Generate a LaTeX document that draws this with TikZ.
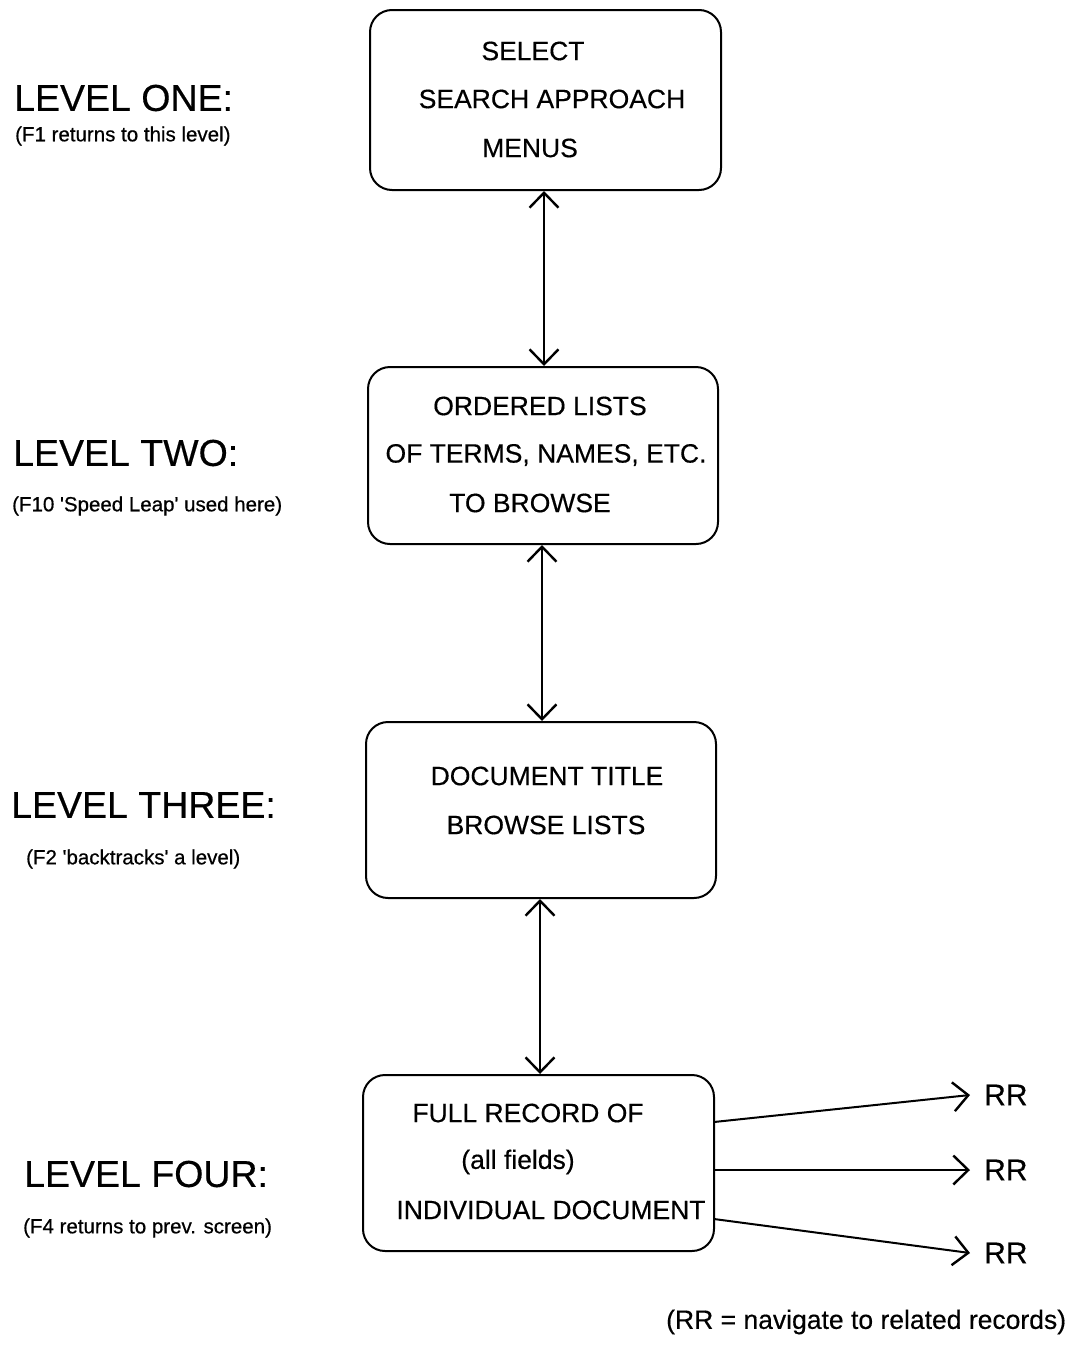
\documentclass[tikz,border=0pt]{standalone}
\usepackage{fontspec}
\setmainfont[FakeBold=0.4]{Liberation Sans}
\newfontfamily\notefont[FakeBold=0.6]{Liberation Sans}
\usetikzlibrary{arrows.meta}
\tikzset{
  box/.style={draw, line width=2pt, rounded corners=22pt, inner sep=0pt},
  boxtxt/.style={inner sep=0pt, font=\fontsize{26.5}{30}\selectfont},
  lvl/.style={anchor=west, inner sep=0pt, font=\fontsize{37.5}{40}\selectfont},
  lvlnote/.style={anchor=west, inner sep=0pt, font=\notefont\fontsize{20.5}{22}\selectfont},
  link/.style={line width=2pt, {Straight Barb[length=15pt,width=29pt,line width=2.4pt]}-{Straight Barb[length=15pt,width=29pt,line width=2.4pt]}},
  rrlink/.style={line width=2pt, -{Straight Barb[length=15pt,width=29pt,line width=2.4pt]}},
  rr/.style={anchor=west, inner sep=0pt, inner xsep=14pt, font=\fontsize{30}{32}\selectfont}
}
\begin{document}
\begin{tikzpicture}[x=1pt,y=-1pt]
\useasboundingbox (0,0) rectangle (1072,1347);
% boxes
\node[box, minimum width=351pt, minimum height=180pt] (b1) at (545.5,100) {};
\node[box, minimum width=350pt, minimum height=177pt] (b2) at (543,455.5) {};
\node[box, minimum width=350pt, minimum height=176pt] (b3) at (541,810) {};
\node[box, minimum width=351pt, minimum height=176pt] (b4) at (538.5,1163) {};
% box texts
\node[boxtxt] (t11) at (533,51) {SELECT};
\node[boxtxt] (t12) at (552,99) {SEARCH APPROACH};
\node[boxtxt] (t13) at (530,148) {MENUS};
\node[boxtxt] (t21) at (540,406) {ORDERED LISTS};
\node[boxtxt] (t22) at (546,455) {OF TERMS, NAMES, ETC.};
\node[boxtxt] (t23) at (530,503) {TO BROWSE};
\node[boxtxt] (t31) at (547,776) {DOCUMENT TITLE};
\node[boxtxt] (t32) at (546,825) {BROWSE LISTS};
\node[boxtxt] (t41) at (528,1113) {FULL RECORD OF};
\node[boxtxt] (t42) at (518,1162) {(all fields)};
\node[boxtxt] (t43) at (551,1210) {INDIVIDUAL DOCUMENT};
% level labels
\node[lvl] (l1) at (14,98) {LEVEL ONE:};
\node[lvlnote] (n1) at (15,136) {(F1 returns to this level)};
\node[lvl] (l2) at (13,453) {LEVEL TWO:};
\node[lvlnote] (n2) at (12,506) {(F10 \textquotesingle Speed Leap\textquotesingle\ used here)};
\node[lvl] (l3) at (11,805) {LEVEL THREE:};
\node[lvlnote] (n3) at (26,859) {(F2 \textquotesingle backtracks\textquotesingle\ a level)};
\node[lvl] (l4) at (24,1174) {LEVEL FOUR:};
\node[lvlnote] (n4) at (23,1228) {(F4 returns to prev. screen)};
% vertical links
\draw[link] (b1.south) ++(-1.5,0) coordinate (a1) -- (a1 |- b2.north);
\draw[link] (b2.south) ++(-1,0) coordinate (a2) -- (a2 |- b3.north);
\draw[link] (b3.south) ++(-1,0) coordinate (a3) -- (a3 |- b4.north);
% RR links
\node[rr] (rr1) at (970,1095) {RR};
\node[rr] (rr2) at (970,1170) {RR};
\node[rr] (rr3) at (970,1253) {RR};
\coordinate (s1) at (714,1122);
\coordinate (s2) at (714,1170);
\coordinate (s3) at (714,1219);
\draw[rrlink] (s1) -- (rr1.west);
\draw[rrlink] (s2) -- (rr2.west);
\draw[rrlink] (s3) -- (rr3.west);
\node[anchor=west, inner sep=0pt, font=\fontsize{26.5}{30}\selectfont] (note) at (666,1322) {(RR = navigate to related records)};
\end{tikzpicture}
\end{document}
